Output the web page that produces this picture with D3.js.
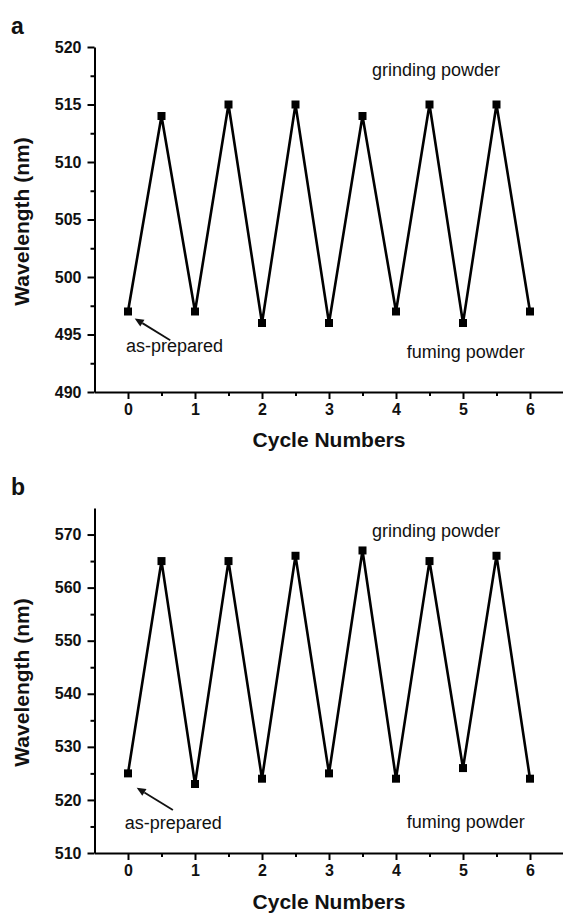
<!DOCTYPE html>
<html>
<head>
<meta charset="utf-8">
<script src="https://cdn.jsdelivr.net/npm/d3@7"></script>
<style>
  body { margin: 0; background: #fff; }
  svg { display: block; font-family: "Liberation Sans", Arial, sans-serif; }
</style>
</head>
<body>
<svg id="chart" width="563" height="915"></svg>
<script>
// Cycle positions: integers = fuming, half steps = grinding
const cycles = [0, 0.5, 1, 1.5, 2, 2.5, 3, 3.5, 4, 4.5, 5, 5.5, 6];
const wavelengthA = [497, 514, 497, 515, 496, 515, 496, 514, 497, 515, 496, 515, 497];
const wavelengthB = [525, 565, 523, 565, 524, 566, 525, 567, 524, 565, 526, 566, 524];

const xTicks = [0, 1, 2, 3, 4, 5, 6];
const xMinorTicks = [0.5, 1.5, 2.5, 3.5, 4.5, 5.5];
const yTicksA = [490, 495, 500, 505, 510, 515, 520];
const yMinorA = [492.5, 497.5, 502.5, 507.5, 512.5, 517.5];
const yTicksB = [510, 520, 530, 540, 550, 560, 570];
const yMinorB = [515, 525, 535, 545, 555, 565];

// annotation text / arrows in data units
const labelsA = [
  { text: "grinding powder", x: 3.64, y: 517.5 },
  { text: "fuming powder", x: 4.16, y: 493.0 },
  { text: "as-prepared", x: -0.03, y: 493.5 }
];
const arrowA = { x1: 0.63, y1: 494.5, x2: 0.1, y2: 496.4 };
const labelsB = [
  { text: "grinding powder", x: 3.64, y: 569.6 },
  { text: "fuming powder", x: 4.16, y: 514.7 },
  { text: "as-prepared", x: -0.05, y: 514.6 }
];
const arrowB = { x1: 0.67, y1: 518.1, x2: 0.13, y2: 522.3 };

const svg = d3.select("#chart");

function drawPanel(opts) {
  const { letter, values, yDomain, yRange, yTicks, yMinor, labels, arrow, letterY, titleY } = opts;
  const g = svg.append("g");

  const x = d3.scaleLinear().domain([-0.5, 6.5]).range([94.5, 563.5]);
  const y = d3.scaleLinear().domain(yDomain).range(yRange);
  const x0 = x(-0.5);
  const yBase = yRange[0];

  // minor ticks first, major axes on top
  g.append("g")
    .attr("transform", `translate(${x0},0)`)
    .call(d3.axisLeft(y).tickValues(yMinor).tickSize(4).tickFormat(""))
    .call(a => a.select(".domain").remove())
    .selectAll("line").attr("stroke", "#000").attr("stroke-width", 2);

  g.append("g")
    .attr("transform", `translate(0,${yBase})`)
    .call(d3.axisBottom(x).tickValues(xMinorTicks).tickSize(4).tickFormat(""))
    .call(a => a.select(".domain").remove())
    .selectAll("line").attr("stroke", "#000").attr("stroke-width", 2);

  const yAxis = g.append("g")
    .attr("transform", `translate(${x0},0)`)
    .call(d3.axisLeft(y).tickValues(yTicks).tickSize(7).tickSizeOuter(0).tickPadding(6).tickFormat(d3.format("d")));
  yAxis.select(".domain").attr("stroke", "#000").attr("stroke-width", 2);
  yAxis.selectAll("line").attr("stroke", "#000").attr("stroke-width", 2);
  yAxis.selectAll("text")
    .attr("font-size", 16).attr("font-weight", "bold").attr("fill", "#111")
    .attr("font-family", "Liberation Sans, Arial, sans-serif");

  const xAxis = g.append("g")
    .attr("transform", `translate(0,${yBase})`)
    .call(d3.axisBottom(x).tickValues(xTicks).tickSize(7).tickSizeOuter(0).tickPadding(5).tickFormat(d3.format("d")));
  xAxis.select(".domain").attr("stroke", "#000").attr("stroke-width", 2);
  xAxis.selectAll("line").attr("stroke", "#000").attr("stroke-width", 2);
  xAxis.selectAll("text")
    .attr("font-size", 16).attr("font-weight", "bold").attr("fill", "#111")
    .attr("font-family", "Liberation Sans, Arial, sans-serif");

  // zig-zag line + square markers
  const pts = cycles.map((c, i) => [c, values[i]]);
  g.append("path")
    .datum(pts)
    .attr("fill", "none")
    .attr("stroke", "#000")
    .attr("stroke-width", 2.6)
    .attr("stroke-linejoin", "miter")
    .attr("d", d3.line().x(d => x(d[0])).y(d => y(d[1])));

  g.selectAll("rect.pt")
    .data(pts)
    .join("rect")
    .attr("class", "pt")
    .attr("x", d => x(d[0]) - 4)
    .attr("y", d => y(d[1]) - 4)
    .attr("width", 8)
    .attr("height", 8)
    .attr("fill", "#000");

  // annotations
  g.selectAll("text.note")
    .data(labels)
    .join("text")
    .attr("class", "note")
    .attr("x", d => x(d.x))
    .attr("y", d => y(d.y))
    .attr("font-size", 18)
    .attr("fill", "#111")
    .text(d => d.text);

  const ax1 = x(arrow.x1), ay1 = y(arrow.y1), ax2 = x(arrow.x2), ay2 = y(arrow.y2);
  const ang = Math.atan2(ay2 - ay1, ax2 - ax1);
  const headLen = 9, headW = 4;
  const bx = ax2 - headLen * Math.cos(ang), by = ay2 - headLen * Math.sin(ang);
  g.append("line")
    .attr("x1", ax1).attr("y1", ay1).attr("x2", bx).attr("y2", by)
    .attr("stroke", "#111").attr("stroke-width", 1.8);
  g.append("path")
    .attr("d", `M${ax2},${ay2}L${bx + headW * Math.sin(ang)},${by - headW * Math.cos(ang)}L${bx - headW * Math.sin(ang)},${by + headW * Math.cos(ang)}Z`)
    .attr("fill", "#111");

  // axis titles and panel letter
  g.append("text")
    .attr("x", x(3))
    .attr("y", titleY)
    .attr("text-anchor", "middle")
    .attr("font-size", 21)
    .attr("font-weight", "bold")
    .attr("fill", "#111")
    .text("Cycle Numbers");

  const midY = (yRange[0] + yRange[1]) / 2 + 2;
  g.append("text")
    .attr("transform", `translate(29,${midY}) rotate(-90)`)
    .attr("text-anchor", "middle")
    .attr("font-size", 21)
    .attr("font-weight", "bold")
    .attr("fill", "#111")
    .text("Wavelength (nm)");

  g.append("text")
    .attr("x", 11)
    .attr("y", letterY)
    .attr("font-size", 23)
    .attr("font-weight", "bold")
    .attr("fill", "#111")
    .text(letter);
}

drawPanel({
  letter: "a", values: wavelengthA,
  yDomain: [490, 520], yRange: [392, 47],
  yTicks: yTicksA, yMinor: yMinorA,
  labels: labelsA, arrow: arrowA,
  letterY: 34, titleY: 447
});

drawPanel({
  letter: "b", values: wavelengthB,
  yDomain: [510, 575], yRange: [853, 508],
  yTicks: yTicksB, yMinor: yMinorB,
  labels: labelsB, arrow: arrowB,
  letterY: 495, titleY: 909
});
</script>
</body>
</html>
